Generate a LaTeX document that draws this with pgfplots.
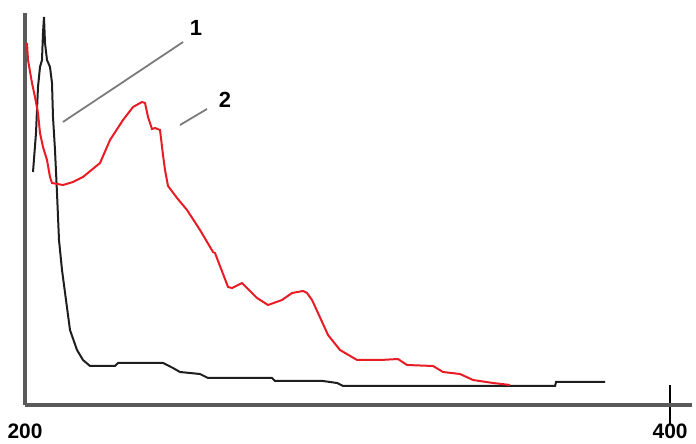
\documentclass[border=0pt]{standalone}
\usepackage{fontspec}
\setmainfont{Liberation Sans}
\usepackage{pgfplots}
\pgfplotsset{compat=1.18}
\definecolor{axgray}{RGB}{90,90,90}
\definecolor{curvered}{RGB}{232,28,36}
\definecolor{curveblack}{RGB}{30,30,30}
\begin{document}
\begin{tikzpicture}
\useasboundingbox (0,0) rectangle (696bp,444bp);
\begin{axis}[
  at={(25bp,39bp)}, anchor=south west,
  scale only axis, width=667bp, height=392bp,
  xmin=200, xmax=406.8, ymin=0, ymax=392,
  axis x line=bottom, axis y line=left,
  axis line style={-, line width=3bp, color=axgray},
  ytick=\empty,
  xtick={400}, xticklabels={400},
  extra x ticks={200}, extra x tick labels={200},
  extra x tick style={tick style={draw=none}},
  major tick length=40bp, tick align=center,
  tick style={line width=2bp, black},
  xticklabel style={font=\bfseries\fontsize{21}{21}\selectfont, anchor=north, inner sep=0pt, yshift=1bp},
  clip=false,
]
\addplot[curveblack, line width=2bp] coordinates {
(202.48,233) (203.41,272) (204.03,318) (204.65,338) (205.27,345) (205.58,372)
(205.89,388) (206.20,362) (206.82,345) (207.75,338) (208.37,322) (208.68,288)
(209.30,255) (209.92,212) (210.54,165) (211.47,135) (212.71,105) (213.95,75)
(216.12,55) (217.98,45) (220.16,39) (227.91,39) (228.84,42) (242.79,42)
(245.89,37) (248.06,33) (254.26,31) (256.74,27) (276.59,27) (277.52,24)
(292.40,24) (296.74,22) (298.60,19) (364.34,19) (364.65,23) (379.84,23)
};
\addplot[curvered, line width=2bp] coordinates {
(200.62,362) (200.93,345) (202.17,322) (203.10,308) (204.03,292) (204.65,272)
(205.58,258) (206.82,245) (207.75,228) (208.37,222) (211.78,220) (214.88,223)
(217.98,228) (223.26,242) (226.36,265)
(230.39,285) (233.49,298) (236.28,303) (237.21,302) (238.14,288) (239.38,276)
(240.31,277) (241.86,275) (242.79,250) (243.41,235) (244.34,219) (247.13,207)
(250.23,195) (254.26,175) (258.29,153) (258.91,152) (262.95,118) (264.19,117)
(267.29,122) (271.94,107) (275.35,100) (279.69,105) (282.79,112) (286.20,114)
(287.44,112) (288.99,105) (290.85,92) (293.95,70) (297.67,55) (302.95,45)
(310.08,45) (315.66,46) (318.45,40) (326.51,39) (329.61,33) (334.88,31)
(338.91,25) (345.12,22) (350.39,20)
};
\draw[axgray!80, line width=1.8bp] (axis cs:211.78,283) -- (axis cs:249.0,363);
\draw[axgray!80, line width=1.8bp] (axis cs:248.06,280) -- (axis cs:256.43,296);
\node[font=\bfseries\fontsize{22}{22}\selectfont, inner sep=0pt] at (axis cs:253.0,377) {1};
\node[font=\bfseries\fontsize{22}{22}\selectfont, inner sep=0pt] at (axis cs:262.0,305) {2};
\end{axis}
\end{tikzpicture}
\end{document}
